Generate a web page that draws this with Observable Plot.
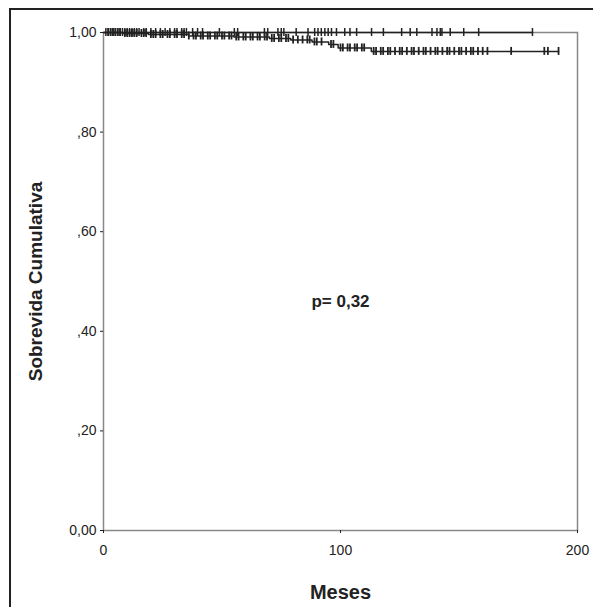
<!DOCTYPE html>
<html><head><meta charset="utf-8">
<script src="https://cdn.jsdelivr.net/npm/d3@7"></script>
<script src="https://cdn.jsdelivr.net/npm/@observablehq/plot@0.6"></script>
<style>
body{margin:0;background:#fff;font-family:"Liberation Sans",Arial,sans-serif}
#wrap{position:absolute;left:9px;top:8px;width:600px;height:610px;border-left:2px solid #222;border-top:2px solid #222;box-sizing:border-box}
#chart{position:absolute;left:0;top:0}
</style></head><body>
<div id="wrap"></div><div id="chart"></div>
<script>
// group A: stays at 1,00
const stepsA = [{t: 0, s: 1}, {t: 181, s: 1}];
const censorA = [1,2,3,4,5,6,7,8,9,10,11,12,13,14,15,17,18,20,22,24,26,28,30,31,33,34,35,
  37.6,39.7,41.8,48.9,55.2,56.6,67.9,69.3,73.6,75,76.1,81.3,86.3,89.1,90.5,91.9,93.4,94.8,96.2,98.3,
  101.8,104,106.8,113.1,118.1,125.8,129.4,132.2,138.6,140.7,142.1,142.8,146.3,152,158.3,181];
// group B: drops to about 0,96
const stepsB = [
  {t: 0, s: 1}, {t: 8, s: 0.998}, {t: 19, s: 0.996}, {t: 36, s: 0.993}, {t: 55, s: 0.991},
  {t: 70, s: 0.988}, {t: 79, s: 0.985}, {t: 88, s: 0.981}, {t: 95, s: 0.976}, {t: 99, s: 0.969},
  {t: 113, s: 0.962}, {t: 192, s: 0.962}];
const censorB = [2,3,4,5,6,7,9,10,11,12,13,14,16,17,18,20,21,22,24,25,27,28,30,31,33,34,36,38,39,41,
  42,44,45,47,48,50,51,53,54,56,57,59,60,62,63,65,66,68,69,71,72,74,75,77,78,80,82,84,86,87,89,90,92,
  96,97,100,101,103,104,106,107,109,110,114,115,117,118,120,121,123,125,126,128,130,131,133,135,136,
  138,140,141,143,145,146,148,150,151,153,155,156,158,160,162,172,186,187.5,192];

const yTicks = [0, 0.2, 0.4, 0.6, 0.8, 1];
const fmtY = d => d === 0 ? "0,00" : d === 1 ? "1,00" : "," + d3.format(".2f")(d).slice(2);
const survAt = (steps, t) => { let s = 1; for (const d of steps) if (d.t <= t) s = d.s; return s; };
const ticks = (steps, times) => times.map(t => ({t, s: survAt(steps, t)}));
const h = 0.008;

const chart = Plot.plot({
  width: 593, height: 607,
  marginLeft: 103, marginRight: 16, marginTop: 32, marginBottom: 77,
  style: {fontFamily: "Liberation Sans, Arial, sans-serif", color: "#222", background: "transparent"},
  x: {domain: [0, 200]},
  y: {domain: [0, 1]},
  marks: [
    Plot.frame({stroke: "#888", strokeWidth: 1.5}),
    Plot.axisX({ticks: [0, 100, 200], tickSize: 3, tickPadding: 12, fontSize: 14, label: null}),
    Plot.axisY({ticks: yTicks, tickSize: 3, tickPadding: 4, fontSize: 14, tickFormat: fmtY, label: null}),
    Plot.line(stepsA, {x: "t", y: "s", curve: "step-after", stroke: "#222", strokeWidth: 1.5}),
    Plot.line(stepsB, {x: "t", y: "s", curve: "step-after", stroke: "#222", strokeWidth: 1.5}),
    Plot.ruleX(ticks(stepsA, censorA), {x: "t", y1: d => d.s - h, y2: d => d.s + h, stroke: "#222", strokeWidth: 1.5}),
    Plot.ruleX(ticks(stepsB, censorB), {x: "t", y1: d => d.s - h, y2: d => d.s + h, stroke: "#222", strokeWidth: 1.8}),
    Plot.text(["p= 0,32"], {x: 100, y: 0.46, text: d => d, fontSize: 17, fontWeight: "bold", fill: "#222"}),
    Plot.text(["Meses"], {x: 100, y: 0, dy: 62, text: d => d, fontSize: 20, fontWeight: "bold", fill: "#222"}),
    Plot.text(["Sobrevida Cumulativa"], {x: 0, y: 0.5, dx: -68, rotate: -90, text: d => d, fontSize: 19, fontWeight: "bold", fill: "#222"})
  ]
});
document.getElementById("chart").appendChild(chart);
</script>
</body></html>
